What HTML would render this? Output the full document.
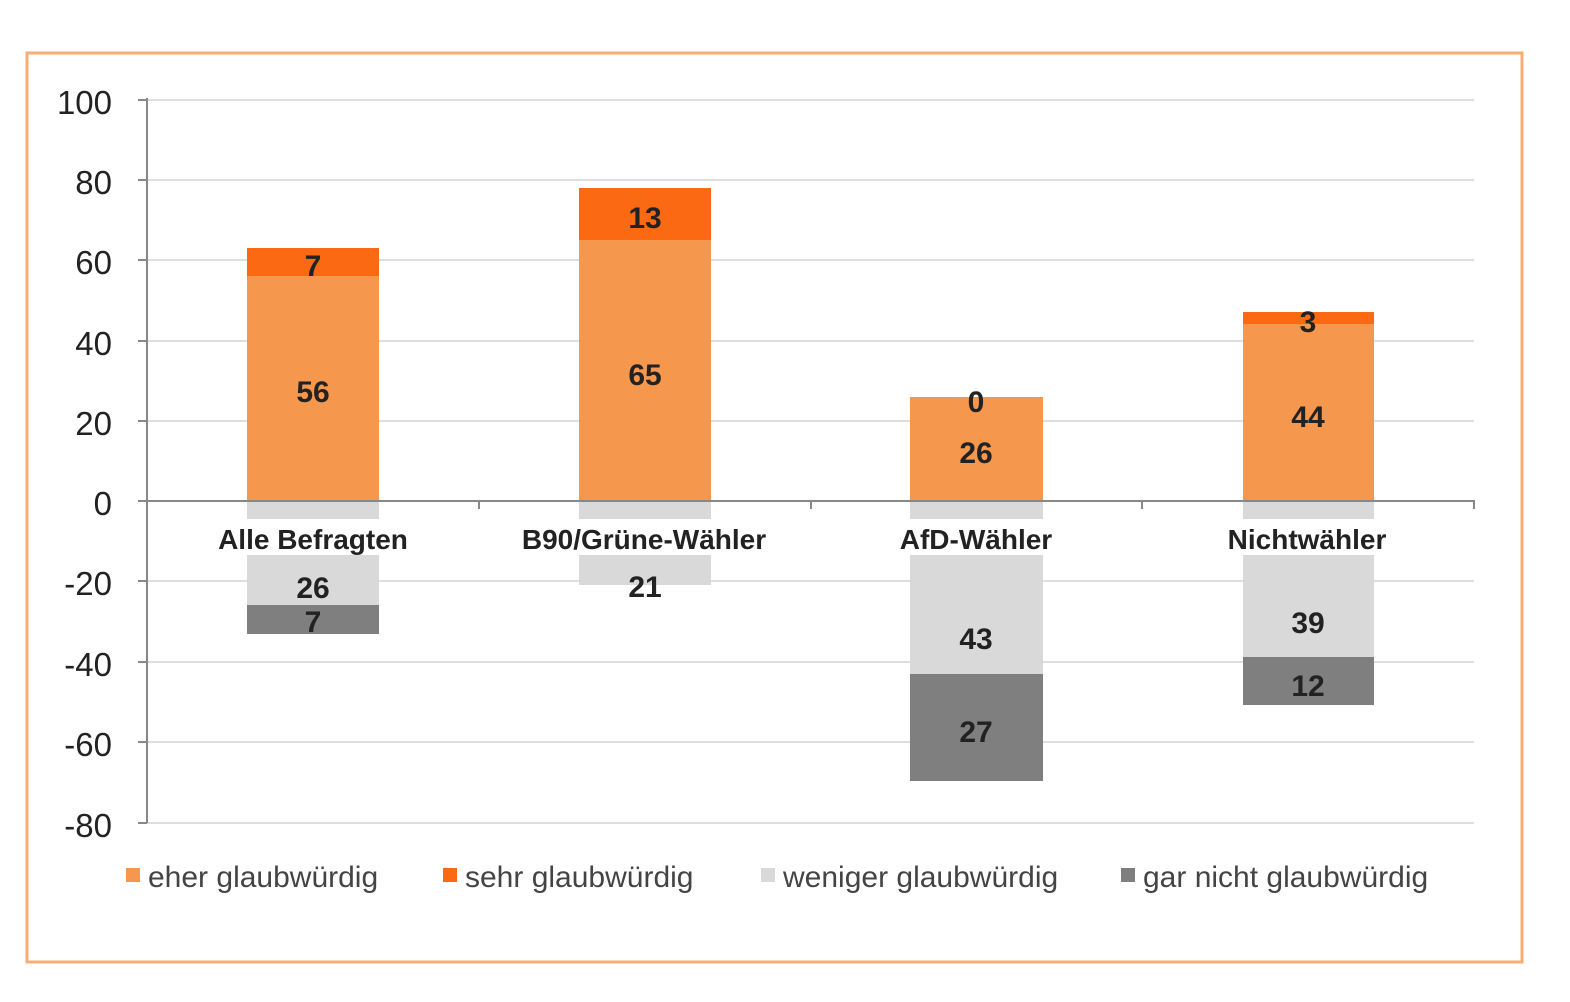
<!DOCTYPE html>
<html><head><meta charset="utf-8"><style>
html,body{margin:0;padding:0;background:#fff;}
svg{display:block;font-family:"Liberation Sans","DejaVu Sans",sans-serif;}
</style></head><body>
<svg width="1570" height="1002" viewBox="0 0 1570 1002">
<rect x="0" y="0" width="1570" height="1002" fill="#fff"/>
<rect x="27" y="53" width="1495" height="909" fill="#fff" stroke="#f7ad74" stroke-width="3"/>
<g stroke="#dedede" stroke-width="2">
<line x1="147" y1="100" x2="1474" y2="100"/>
<line x1="147" y1="180" x2="1474" y2="180"/>
<line x1="147" y1="260" x2="1474" y2="260"/>
<line x1="147" y1="341" x2="1474" y2="341"/>
<line x1="147" y1="421" x2="1474" y2="421"/>
<line x1="147" y1="581" x2="1474" y2="581"/>
<line x1="147" y1="662" x2="1474" y2="662"/>
<line x1="147" y1="742" x2="1474" y2="742"/>
<line x1="147" y1="823" x2="1474" y2="823"/>
</g>
<g stroke="#888" stroke-width="2">
<line x1="147" y1="98" x2="147" y2="823"/>
<line x1="138" y1="100" x2="147" y2="100"/><line x1="138" y1="180" x2="147" y2="180"/>
<line x1="138" y1="260" x2="147" y2="260"/><line x1="138" y1="341" x2="147" y2="341"/>
<line x1="138" y1="421" x2="147" y2="421"/><line x1="138" y1="501" x2="147" y2="501"/>
<line x1="138" y1="581" x2="147" y2="581"/><line x1="138" y1="662" x2="147" y2="662"/>
<line x1="138" y1="742" x2="147" y2="742"/><line x1="138" y1="823" x2="147" y2="823"/>
</g>
<g>
<rect x="247" y="276" width="132" height="225" fill="#f5974d"/>
<rect x="247" y="248" width="132" height="28" fill="#fb6a13"/>
<rect x="247" y="501" width="132" height="104" fill="#d9d9d9"/>
<rect x="247" y="605" width="132" height="29" fill="#7f7f7f"/>

<rect x="579" y="240" width="132" height="261" fill="#f5974d"/>
<rect x="579" y="188" width="132" height="52" fill="#fb6a13"/>
<rect x="579" y="501" width="132" height="84" fill="#d9d9d9"/>

<rect x="910" y="397" width="133" height="104" fill="#f5974d"/>
<rect x="910" y="501" width="133" height="173" fill="#d9d9d9"/>
<rect x="910" y="674" width="133" height="107" fill="#7f7f7f"/>

<rect x="1243" y="324" width="131" height="177" fill="#f5974d"/>
<rect x="1243" y="312" width="131" height="12" fill="#fb6a13"/>
<rect x="1243" y="501" width="131" height="156" fill="#d9d9d9"/>
<rect x="1243" y="657" width="131" height="48" fill="#7f7f7f"/>
</g>
<rect x="150" y="519" width="1320" height="36" fill="#fff"/>
<g stroke="#888" stroke-width="2">
<line x1="147" y1="501" x2="1475" y2="501"/>
<line x1="479" y1="501" x2="479" y2="509"/><line x1="811" y1="501" x2="811" y2="509"/>
<line x1="1142" y1="501" x2="1142" y2="509"/><line x1="1474" y1="501" x2="1474" y2="509"/>
</g>
<g font-size="33" fill="#222" text-anchor="end">
<text x="112" y="114">100</text><text x="112" y="194">80</text><text x="112" y="274">60</text>
<text x="112" y="355">40</text><text x="112" y="435">20</text><text x="112" y="515">0</text>
<text x="112" y="595">-20</text><text x="112" y="676">-40</text><text x="112" y="756">-60</text>
<text x="112" y="837">-80</text>
</g>
<g font-size="28" font-weight="bold" fill="#222" text-anchor="middle">
<text x="313" y="549">Alle Befragten</text>
<text x="644" y="549">B90/Grüne-Wähler</text>
<text x="976" y="549">AfD-Wähler</text>
<text x="1307" y="549">Nichtwähler</text>
</g>
<g font-size="30" font-weight="bold" fill="#222" text-anchor="middle">
<text x="313" y="276">7</text><text x="313" y="402">56</text><text x="313" y="598">26</text><text x="313" y="632">7</text>
<text x="645" y="228">13</text><text x="645" y="385">65</text><text x="645" y="597">21</text>
<text x="976" y="412">0</text><text x="976" y="463">26</text><text x="976" y="649">43</text><text x="976" y="742">27</text>
<text x="1308" y="332">3</text><text x="1308" y="427">44</text><text x="1308" y="633">39</text><text x="1308" y="696">12</text>
</g>
<g font-size="30" fill="#444">
<rect x="126" y="868" width="14" height="14" fill="#f5974d"/><text x="148" y="887">eher glaubwürdig</text>
<rect x="443" y="868" width="14" height="14" fill="#fb6a13"/><text x="465" y="887">sehr glaubwürdig</text>
<rect x="761" y="868" width="14" height="14" fill="#d9d9d9"/><text x="783" y="887">weniger glaubwürdig</text>
<rect x="1121" y="868" width="14" height="14" fill="#7f7f7f"/><text x="1143" y="887">gar nicht glaubwürdig</text>
</g>
</svg>
</body></html>
